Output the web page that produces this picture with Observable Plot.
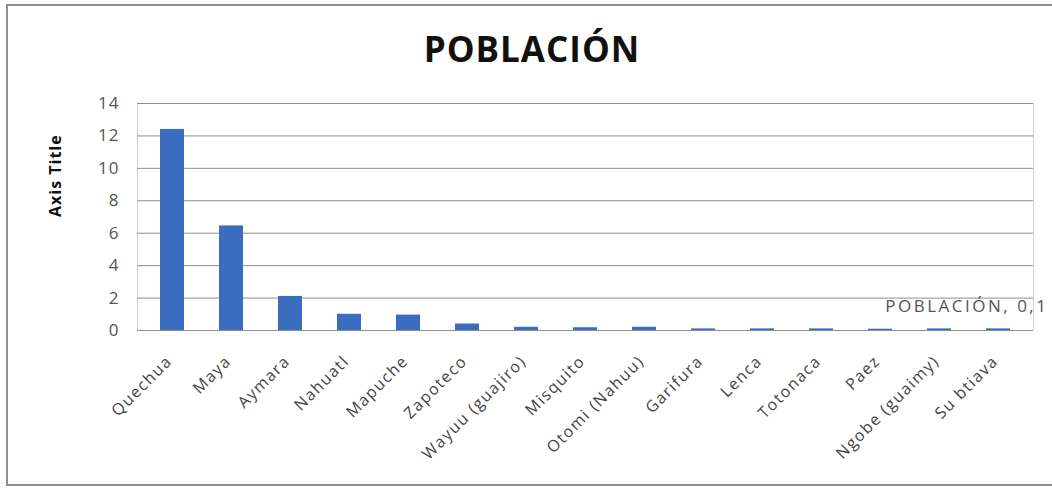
<!DOCTYPE html>
<html>
<head>
<meta charset="utf-8">
<script src="https://cdn.jsdelivr.net/npm/d3@7"></script>
<script src="https://cdn.jsdelivr.net/npm/@observablehq/plot@0.6"></script>
<style>
  html, body { margin: 0; padding: 0; background: #fff; }
  body { width: 1052px; height: 489px; position: relative; overflow: hidden; font-family: "Open Sans", sans-serif; }
  #frame { position: absolute; left: 6px; top: 4px; width: 1060px; height: 482px; border: 2px solid #8e8e8e; box-sizing: border-box; }
  #title { position: absolute; left: 12px; top: 0; width: 1040px; height: 80px; line-height: 98px; text-align: center;
           font-family: "Open Sans", sans-serif; font-weight: 700; font-size: 35px; letter-spacing: 1px; color: #111; }
  #chart { position: absolute; left: 0; top: 80px; }
</style>
</head>
<body>
<div id="frame"></div>
<div id="title">POBLACIÓN</div>
<div id="chart"></div>
<script>
// Indigenous peoples and their population (millions)
const pueblos = ["Quechua", "Maya", "Aymara", "Nahuatl", "Mapuche", "Zapoteco", "Wayuu (guajiro)", "Misquito",
                 "Otomi (Nahuu)", "Garifura", "Lenca", "Totonaca", "Paez", "Ngobe (guaimy)", "Su btiava"];
const poblacion = [12.4, 6.45, 2.1, 1.0, 0.95, 0.4, 0.2, 0.17, 0.2, 0.1, 0.1, 0.1, 0.08, 0.1, 0.1];
const yTicks = [0, 2, 4, 6, 8, 10, 12, 14];
const serie = "POBLACIÓN";
const etiqueta = { pueblo: "Su btiava", valor: 0.1 };

const data = pueblos.map((p, i) => ({ pueblo: p, valor: poblacion[i] }));

const chart = Plot.plot({
  width: 1052,
  height: 409,
  marginLeft: 137,
  marginRight: 19,
  marginTop: 23,
  marginBottom: 159,
  style: { fontFamily: "Open Sans, sans-serif", background: "transparent", overflow: "visible" },
  x: { domain: pueblos, paddingInner: 0.6, paddingOuter: 0.3, axis: null },
  y: { domain: [0, 14], axis: null },
  marks: [
    Plot.frame({ stroke: "#d0d0d0" }),
    Plot.gridY(yTicks, { stroke: "#8f8f8f", strokeOpacity: 1, strokeWidth: 1 }),
    Plot.barY(data, { x: "pueblo", y: "valor", fill: "#3a6cc0" }),
    Plot.axisY(yTicks, { tickSize: 0, tickPadding: 18, fontSize: 17, fill: "#555", label: null, tickFormat: d => d }),
    Plot.axisX({ tickSize: 0, tickPadding: 28, dx: -3, tickRotate: -45, fontSize: 16, fill: "#444", label: null }),
    Plot.text(["Axis Title"], { frameAnchor: "left", dx: -82, rotate: -90, fontSize: 16, fontWeight: 700, fill: "#111" }),
    Plot.text([etiqueta], { x: "pueblo", y: "valor", text: d => `${serie}, ${String(d.valor).replace(".", ",")}`,
      textAnchor: "end", dx: 50, dy: -22, fontSize: 17, fill: "#555" })
  ]
});

// Excel-like wide lettering for the labels
const svg = d3.select(chart);
svg.selectAll("text").filter(function () { return this.textContent.startsWith(serie); })
  .attr("letter-spacing", "2.5px");
svg.selectAll("g[aria-label='x-axis tick label'] text").attr("letter-spacing", "1.5px");
svg.selectAll("g[aria-label='y-axis tick label'] text").attr("letter-spacing", "1px");
svg.selectAll("text").filter(function () { return this.textContent === "Axis Title"; })
  .attr("letter-spacing", "1px");
document.getElementById("chart").appendChild(chart);
</script>
</body>
</html>
